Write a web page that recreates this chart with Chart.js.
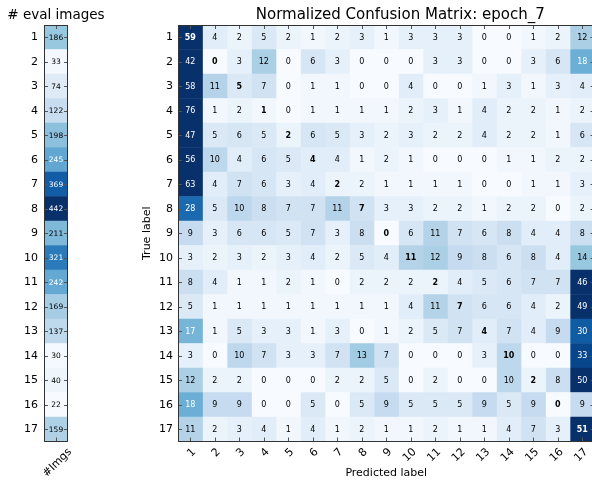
<!DOCTYPE html>
<html>
<head>
<meta charset="utf-8">
<title>Normalized Confusion Matrix: epoch_7</title>
<script src="https://cdn.jsdelivr.net/npm/chart.js@4.4.0/dist/chart.umd.min.js"></script>
<style>
  html, body { margin: 0; padding: 0; background: #fff; overflow: hidden; }
  #wrap { position: relative; width: 592px; height: 481px; overflow: hidden; }
  #countChart { position: absolute; left: 0; top: 0; }
  #matrixChart { position: absolute; left: 130px; top: 0; }
</style>
</head>
<body>
<div id="wrap">
  <canvas id="countChart" width="130" height="481"></canvas>
  <canvas id="matrixChart" width="466" height="481"></canvas>
</div>
<script>
// クラスラベル (1〜17)
const classLabels = ['1', '2', '3', '4', '5', '6', '7', '8', '9', '10', '11', '12', '13', '14', '15', '16', '17'];
// 評価画像数
const evalCounts = [186, 33, 74, 122, 198, 245, 369, 442, 211, 321, 242, 169, 137, 30, 40, 22, 159];
const countTickLabels = ['#Imgs'];

// 正規化混同行列 (%), 行 = 正解, 列 = 予測
const confusion = [
  [59, 4, 2, 5, 2, 1, 2, 3, 1, 3, 3, 3, 0, 0, 1, 2, 12],
  [42, 0, 3, 12, 0, 6, 3, 0, 0, 0, 3, 3, 0, 0, 3, 6, 18],
  [58, 11, 5, 7, 0, 1, 1, 0, 0, 4, 0, 0, 1, 3, 1, 3, 4],
  [76, 1, 2, 1, 0, 1, 1, 1, 1, 2, 3, 1, 4, 2, 2, 1, 2],
  [47, 5, 6, 5, 2, 6, 5, 3, 2, 3, 2, 2, 4, 2, 2, 1, 6],
  [56, 10, 4, 6, 5, 4, 4, 1, 2, 1, 0, 0, 0, 1, 1, 2, 2],
  [63, 4, 7, 6, 3, 4, 2, 2, 1, 1, 1, 1, 0, 0, 1, 1, 3],
  [28, 5, 10, 8, 7, 7, 11, 7, 3, 3, 2, 2, 1, 2, 2, 0, 2],
  [9, 3, 6, 6, 5, 7, 3, 8, 0, 6, 11, 7, 6, 8, 4, 4, 8],
  [3, 2, 3, 2, 3, 4, 2, 5, 4, 11, 12, 9, 8, 6, 8, 4, 14],
  [8, 4, 1, 1, 2, 1, 0, 2, 2, 2, 2, 4, 5, 6, 7, 7, 46],
  [5, 1, 1, 1, 1, 1, 1, 1, 1, 4, 11, 7, 6, 6, 4, 2, 49],
  [17, 1, 5, 3, 3, 1, 3, 0, 1, 2, 5, 7, 4, 7, 4, 9, 30],
  [3, 0, 10, 7, 3, 3, 7, 13, 7, 0, 0, 0, 3, 10, 0, 0, 33],
  [12, 2, 2, 0, 0, 0, 2, 2, 5, 0, 2, 0, 0, 10, 2, 8, 50],
  [18, 9, 9, 0, 0, 5, 0, 5, 9, 5, 5, 5, 9, 5, 9, 0, 9],
  [11, 2, 3, 4, 1, 4, 1, 2, 1, 1, 2, 1, 1, 4, 7, 3, 51]
];

const FONT = '"DejaVu Sans", "Liberation Sans", sans-serif';

// matplotlib の Blues カラーマップ
const bluesStops = ['#f7fbff', '#deebf7', '#c6dbef', '#9ecae1', '#6baed6', '#4292c6', '#2171b5', '#08519c', '#08306b'];
function hexToRgb(h) {
    return [parseInt(h.substr(1, 2), 16), parseInt(h.substr(3, 2), 16), parseInt(h.substr(5, 2), 16)];
}
function blues(t) {
    t = Math.max(0, Math.min(1, t));
    const p = t * (bluesStops.length - 1);
    const i = Math.min(Math.floor(p), bluesStops.length - 2);
    const f = p - i;
    const a = hexToRgb(bluesStops[i]);
    const b = hexToRgb(bluesStops[i + 1]);
    const c = a.map((v, k) => Math.round(v + (b[k] - v) * f));
    return 'rgb(' + c.join(',') + ')';
}

// 色の範囲
const countMin = Math.min(...evalCounts);
const countMax = Math.max(...evalCounts);
const matrixVmax = 36;

// 枠・内向き目盛り・セル数値・タイトルを描くプラグイン
function heatDecor(cfg) {
    return {
        id: 'heatDecor',
        afterDatasetsDraw(chart) {
            const ctx = chart.ctx;
            const a = chart.chartArea;
            const xs = chart.scales.x;
            const ys = chart.scales.y;
            ctx.save();

            // セルの数値
            ctx.textAlign = 'center';
            ctx.textBaseline = 'middle';
            chart.data.datasets.forEach((ds, di) => {
                chart.getDatasetMeta(di).data.forEach((bar, ri) => {
                    const v = cfg.value(ri, di);
                    const p = bar.getCenterPoint();
                    ctx.font = (cfg.bold(ri, di) ? 'bold ' : '') + cfg.textSize + 'px ' + FONT;
                    ctx.fillStyle = cfg.light(v) ? '#ffffff' : '#000000';
                    ctx.fillText(String(v), p.x, p.y + 0.5);
                });
            });

            // 内向きの目盛り
            ctx.strokeStyle = '#555';
            ctx.lineWidth = 1;
            ctx.beginPath();
            xs.ticks.forEach(t => {
                const x = Math.round(xs.getPixelForValue(t.value)) + 0.5;
                ctx.moveTo(x, a.top); ctx.lineTo(x, a.top + 4);
                ctx.moveTo(x, a.bottom); ctx.lineTo(x, a.bottom - 4);
            });
            ys.ticks.forEach((t, i) => {
                const y = Math.round(ys.getPixelForValue(i)) + 0.5;
                ctx.moveTo(a.left, y); ctx.lineTo(a.left + 4, y);
                ctx.moveTo(a.right, y); ctx.lineTo(a.right - 4, y);
            });
            ctx.stroke();

            // 枠線
            ctx.strokeStyle = '#333';
            ctx.strokeRect(Math.round(a.left) + 0.5, Math.round(a.top) + 0.5,
                Math.round(a.right - a.left) - 1, Math.round(a.bottom - a.top) - 1);

            // タイトル
            ctx.fillStyle = '#000';
            ctx.font = cfg.titleSize + 'px ' + FONT;
            ctx.textAlign = 'center';
            ctx.textBaseline = 'alphabetic';
            ctx.fillText(cfg.title, (a.left + a.right) / 2 + cfg.titleShift, 19);
            ctx.restore();
        }
    };
}

const tickFont = { family: FONT, size: 11 };

// 左: 評価画像数
new Chart(document.getElementById('countChart'), {
    type: 'bar',
    data: {
        labels: classLabels,
        datasets: [{
            data: evalCounts.map(() => [0, 1]),
            backgroundColor: (c) => blues((evalCounts[c.dataIndex] - countMin) / (countMax - countMin)),
            borderWidth: 0,
            barPercentage: 1,
            categoryPercentage: 1
        }]
    },
    options: {
        indexAxis: 'y',
        responsive: false,
        animation: false,
        events: [],
        layout: { padding: { top: 25, right: 62, left: 0, bottom: 0 } },
        plugins: { legend: { display: false }, tooltip: { enabled: false } },
        scales: {
            x: {
                type: 'linear', min: 0, max: 1,
                grid: { display: false, drawTicks: false },
                border: { display: false },
                afterBuildTicks: (s) => { s.ticks = [{ value: 0.5 }]; },
                ticks: {
                    callback: (v, i) => countTickLabels[i],
                    minRotation: 45, maxRotation: 45,
                    font: tickFont, color: '#000', padding: 4,
                    labelOffset: 14
                },
                afterFit: (s) => { s.height = 39.5; }
            },
            y: {
                type: 'category',
                grid: { display: false, drawTicks: false },
                border: { display: false },
                ticks: { font: tickFont, color: '#000', padding: 6 },
                afterFit: (s) => { s.width = 44; }
            }
        }
    },
    plugins: [heatDecor({
        value: (r) => evalCounts[r],
        bold: () => false,
        light: (v) => (v - countMin) / (countMax - countMin) > 0.5,
        textSize: 7.5,
        title: '# eval images',
        titleSize: 13.5,
        titleShift: 0
    })]
});

// 右: 正規化混同行列
new Chart(document.getElementById('matrixChart'), {
    type: 'bar',
    data: {
        labels: classLabels,
        datasets: classLabels.map((lab, j) => ({
            label: lab,
            data: classLabels.map(() => [j, j + 1]),
            backgroundColor: (c) => blues(confusion[c.dataIndex][j] / matrixVmax),
            borderWidth: 0,
            barPercentage: 1,
            categoryPercentage: 1,
            grouped: false
        }))
    },
    options: {
        indexAxis: 'y',
        responsive: false,
        animation: false,
        events: [],
        layout: { padding: { top: 25, right: 1.5, left: 0, bottom: 0 } },
        plugins: { legend: { display: false }, tooltip: { enabled: false } },
        scales: {
            x: {
                type: 'linear', min: 0, max: classLabels.length,
                grid: { display: false, drawTicks: false },
                border: { display: false },
                afterBuildTicks: (s) => { s.ticks = classLabels.map((l, i) => ({ value: i + 0.5 })); },
                ticks: {
                    callback: (v, i) => classLabels[i],
                    minRotation: 45, maxRotation: 45,
                    font: tickFont, color: '#000', padding: 4,
                    labelOffset: 4
                },
                title: { display: true, text: 'Predicted label', font: tickFont, color: '#000', padding: { top: 0, bottom: 1 } },
                afterFit: (s) => { s.height = 39.5; }
            },
            y: {
                type: 'category',
                grid: { display: false, drawTicks: false },
                border: { display: false },
                ticks: { font: tickFont, color: '#000', padding: 5 },
                title: { display: true, text: 'True label', font: tickFont, color: '#000', padding: { top: 11, bottom: 0 } },
                afterFit: (s) => { s.width = 48; }
            }
        }
    },
    plugins: [heatDecor({
        value: (r, c) => confusion[r][c],
        bold: (r, c) => r === c,
        light: (v) => v >= 17,
        textSize: 8,
        title: 'Normalized Confusion Matrix: epoch_7',
        titleSize: 15,
        titleShift: 14
    })]
});
</script>
</body>
</html>
